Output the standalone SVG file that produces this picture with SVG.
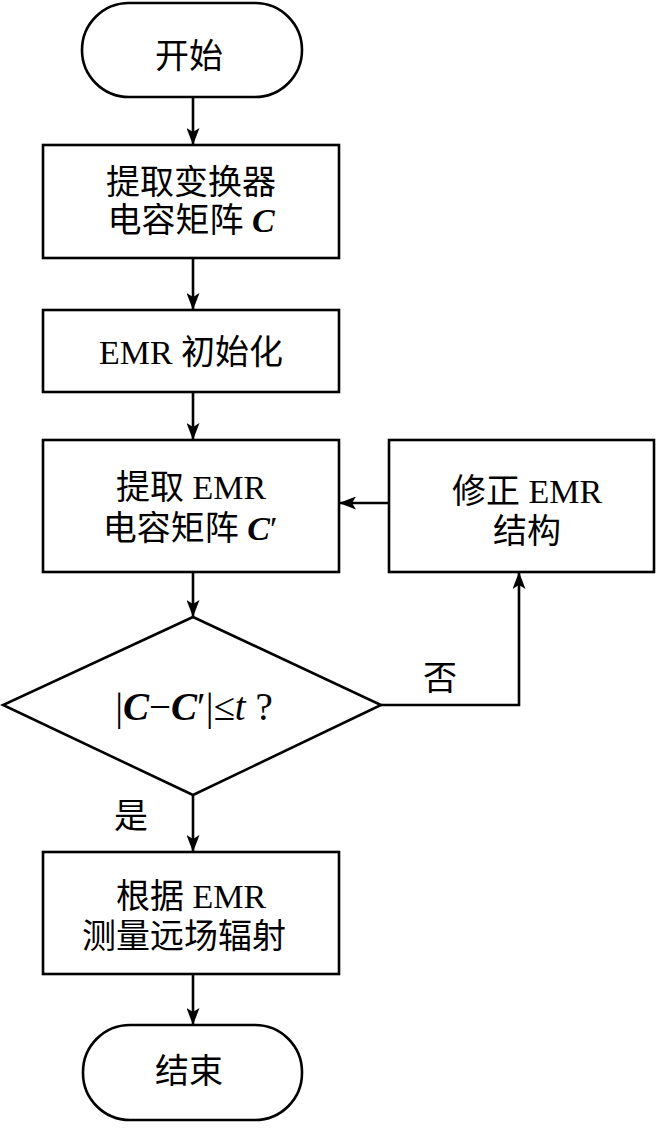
<svg xmlns="http://www.w3.org/2000/svg" width="656" height="1128" viewBox="0 0 656 1128">
<style>
.n{fill:#fff;stroke:#000;stroke-width:2.6}
.t{font-family:"Liberation Serif","Noto Sans CJK SC",serif;font-size:34px;fill:#000;text-anchor:middle}
.d{font-size:39px}
.v{font-weight:bold;font-style:italic}
.i{font-style:italic}
.c{fill:none;stroke:#000;stroke-width:2.6}
</style>
<defs>
<marker id="ah" markerWidth="17" markerHeight="13" refX="17" refY="6.5" orient="auto" markerUnits="userSpaceOnUse" viewBox="0 0 17 13">
<path d="M0,0 L17,6.5 L0,13 L4,6.5 Z" fill="#000"/>
</marker>
</defs>
<rect width="656" height="1128" fill="#fff"/>
<g id="connectors">
<line class="c" x1="193" y1="97" x2="193" y2="145" marker-end="url(#ah)"/>
<line class="c" x1="193" y1="258" x2="193" y2="310" marker-end="url(#ah)"/>
<line class="c" x1="193" y1="392" x2="193" y2="440" marker-end="url(#ah)"/>
<line class="c" x1="389" y1="503" x2="339" y2="503" marker-end="url(#ah)"/>
<line class="c" x1="193" y1="572" x2="193" y2="617" marker-end="url(#ah)"/>
<polyline class="c" points="381,705 519,705 519,572" marker-end="url(#ah)"/>
<line class="c" x1="193" y1="795" x2="193" y2="852" marker-end="url(#ah)"/>
<line class="c" x1="193" y1="974" x2="193" y2="1025" marker-end="url(#ah)"/>
<text class="t" x="440" y="690">否</text>
<text class="t" x="131" y="828">是</text>
</g>
<g id="start">
<rect class="n" x="82" y="3" width="220" height="94" rx="47" ry="47"/>
<text class="t" x="189" y="68">开始</text>
</g>
<g id="extract-c">
<rect class="n" x="43" y="145" width="296" height="113"/>
<text class="t" x="191" y="194">提取变换器</text>
<text class="t" x="191" y="232">电容矩阵 <tspan class="v">C</tspan></text>
</g>
<g id="emr-init">
<rect class="n" x="43" y="310" width="296" height="82"/>
<text class="t" x="191" y="364">EMR 初始化</text>
</g>
<g id="extract-emr">
<rect class="n" x="43" y="440" width="296" height="132"/>
<text class="t" x="191" y="499">提取 EMR</text>
<text class="t" x="190" y="540">电容矩阵 <tspan class="v">C</tspan>′</text>
</g>
<g id="modify-emr">
<rect class="n" x="389" y="440" width="265" height="132"/>
<text class="t" x="527" y="503">修正 EMR</text>
<text class="t" x="527" y="543">结构</text>
</g>
<g id="decision">
<polygon class="n" points="193,617 381,705 193,795 3,705"/>
<text class="t d" x="194" y="720">|<tspan class="v">C</tspan>−<tspan class="v">C</tspan>′|≤<tspan class="i">t</tspan> ?</text>
</g>
<g id="measure">
<rect class="n" x="43" y="852" width="296" height="122"/>
<text class="t" x="191" y="908">根据 EMR</text>
<text class="t" x="184" y="948">测量远场辐射</text>
</g>
<g id="end">
<rect class="n" x="83" y="1025" width="219" height="95" rx="47" ry="47"/>
<text class="t" x="189" y="1083">结束</text>
</g>
</svg>
